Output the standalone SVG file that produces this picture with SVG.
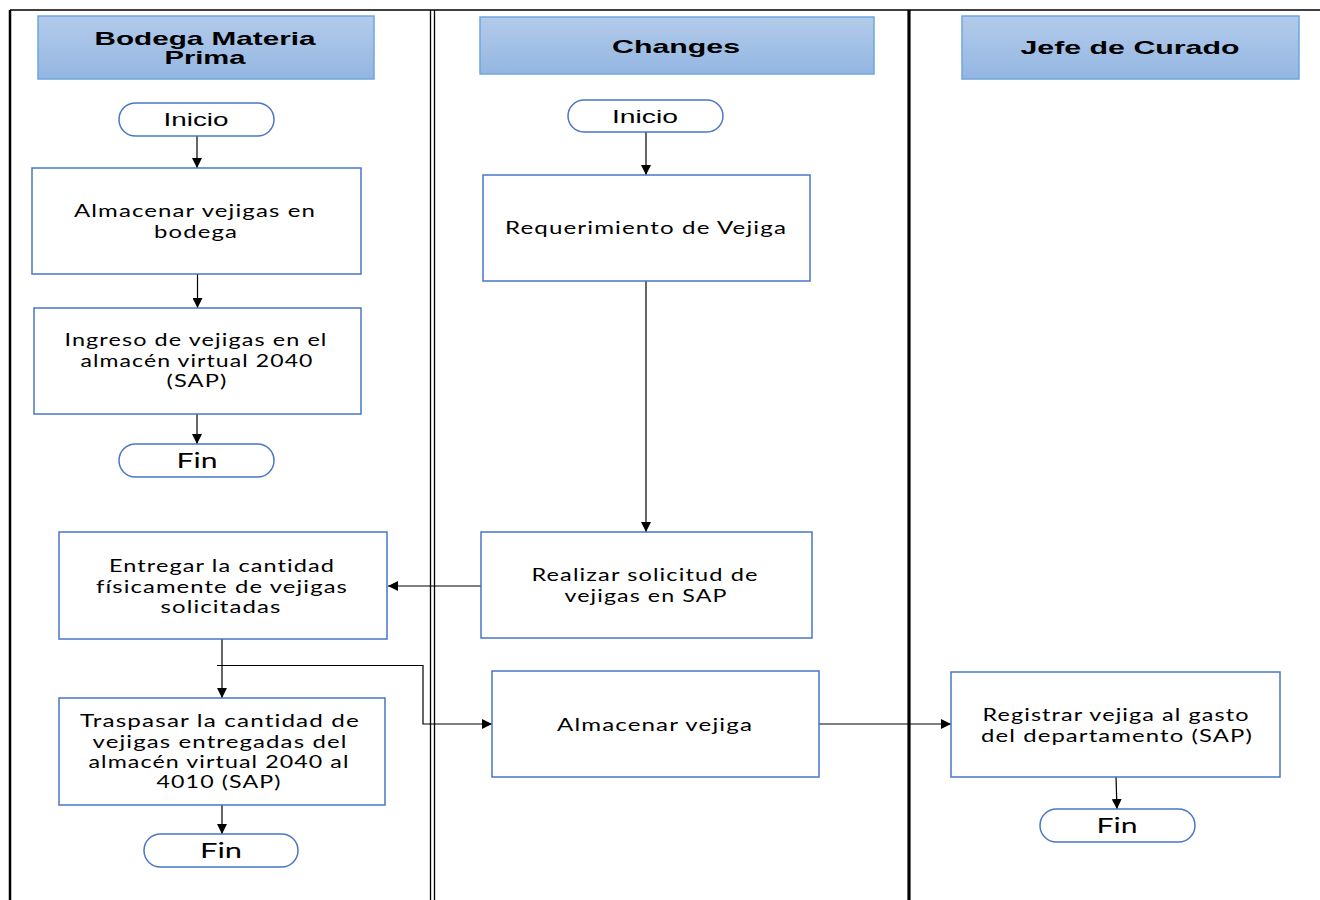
<svg xmlns="http://www.w3.org/2000/svg" width="1320" height="900" viewBox="0 0 1320 900">
  <defs>
    <linearGradient id="hdrFill" x1="0" y1="0" x2="0" y2="1">
      <stop offset="0" stop-color="#b3cbea"/>
      <stop offset="1" stop-color="#93b6e2"/>
    </linearGradient>
    <marker id="arrow" viewBox="0 0 10 10" refX="10" refY="5" markerWidth="10" markerHeight="10" markerUnits="userSpaceOnUse" orient="auto">
      <path d="M0,0 L10,5 L0,10 z" fill="#000"/>
    </marker>
  </defs>
  <style>
    .hdr { fill: url(#hdrFill); stroke: #6fa6de; stroke-width: 1.5; }
    .hdrText { font-family: "Liberation Sans", Arial, sans-serif; font-weight: bold; font-size: 19px; fill: #000; text-anchor: middle; }
    .box { fill: #fff; stroke: #4a76c8; stroke-width: 1.5; }
    .term { fill: #fff; stroke: #4a76c8; stroke-width: 1.5; }
    .txt { font-family: Lato, "Open Sans", sans-serif; font-size: 17px; fill: #000; text-anchor: middle; letter-spacing: 0.8px; }
    .ttxt { font-family: "Liberation Sans", Arial, sans-serif; font-size: 19px; fill: #000; text-anchor: middle; }
    .ftxt { font-family: Lato, "Open Sans", sans-serif; font-size: 22px; fill: #000; text-anchor: middle; }
    .conn { fill: none; stroke: #000; stroke-width: 1.2; }
    .lane { stroke: #000; fill: none; }
  </style>

  <rect width="1320" height="900" fill="#fff"/>

  <!-- swimlane frame -->
  <g id="lanes">
    <line class="lane" x1="10" y1="10" x2="1320" y2="10" stroke-width="1.5"/>
    <line class="lane" x1="10" y1="10" x2="10" y2="900" stroke-width="2.5"/>
    <line class="lane" x1="430.5" y1="10" x2="430.5" y2="900" stroke-width="1.3"/>
    <line class="lane" x1="434.5" y1="10" x2="434.5" y2="900" stroke-width="1.3"/>
    <line class="lane" x1="909" y1="10" x2="909" y2="900" stroke-width="3.2"/>
  </g>

  <!-- lane headers -->
  <g id="header-bodega">
    <rect class="hdr" x="38" y="16" width="336" height="63"/>
    <text class="hdrText" x="205" y="45" textLength="221" lengthAdjust="spacingAndGlyphs">Bodega Materia</text>
    <text class="hdrText" x="205" y="64" textLength="81" lengthAdjust="spacingAndGlyphs">Prima</text>
  </g>
  <g id="header-changes">
    <rect class="hdr" x="480" y="17" width="394" height="57"/>
    <text class="hdrText" x="676" y="53" textLength="128" lengthAdjust="spacingAndGlyphs">Changes</text>
  </g>
  <g id="header-jefe">
    <rect class="hdr" x="962" y="16" width="337" height="63"/>
    <text class="hdrText" x="1130" y="54" textLength="219" lengthAdjust="spacingAndGlyphs">Jefe de Curado</text>
  </g>

  <!-- connectors -->
  <g id="connectors">
    <line class="conn" x1="197" y1="136" x2="197" y2="168" marker-end="url(#arrow)"/>
    <line class="conn" x1="197.5" y1="274" x2="197.5" y2="308" marker-end="url(#arrow)"/>
    <line class="conn" x1="197" y1="414" x2="197" y2="444" marker-end="url(#arrow)"/>
    <line class="conn" x1="646" y1="132" x2="646" y2="175" marker-end="url(#arrow)"/>
    <line class="conn" x1="646" y1="281" x2="646" y2="532" marker-end="url(#arrow)"/>
    <line class="conn" x1="481" y1="586" x2="388" y2="586" marker-end="url(#arrow)"/>
    <line class="conn" x1="222" y1="639" x2="222" y2="698" marker-end="url(#arrow)"/>
    <polyline class="conn" points="217,665.5 423,665.5 423,724 492,724" marker-end="url(#arrow)"/>
    <line class="conn" x1="819" y1="724" x2="951" y2="724" marker-end="url(#arrow)"/>
    <line class="conn" x1="1116" y1="777" x2="1117" y2="809" marker-end="url(#arrow)"/>
    <line class="conn" x1="222" y1="805" x2="222" y2="834" marker-end="url(#arrow)"/>
  </g>

  <!-- Bodega Materia Prima lane -->
  <g id="inicio-bodega">
    <rect class="term" x="119" y="103" width="155" height="33" rx="16.5"/>
    <text class="ttxt" x="196" y="126" textLength="65" lengthAdjust="spacingAndGlyphs">Inicio</text>
  </g>
  <g id="almacenar-bodega">
    <rect class="box" x="32" y="168" width="329" height="106"/>
    <text class="txt" x="195" y="217" textLength="242" lengthAdjust="spacingAndGlyphs">Almacenar vejigas en</text>
    <text class="txt" x="196" y="238" textLength="84" lengthAdjust="spacingAndGlyphs">bodega</text>
  </g>
  <g id="ingreso-2040">
    <rect class="box" x="34" y="308" width="327" height="106"/>
    <text class="txt" x="196" y="346" textLength="263" lengthAdjust="spacingAndGlyphs">Ingreso de vejigas en el</text>
    <text class="txt" x="197" y="367" textLength="233" lengthAdjust="spacingAndGlyphs">almacén virtual 2040</text>
    <text class="txt" x="197" y="387" textLength="61" lengthAdjust="spacingAndGlyphs">(SAP)</text>
  </g>
  <g id="fin-bodega-1">
    <rect class="term" x="119" y="444" width="155" height="33" rx="16.5"/>
    <text class="ftxt" x="197" y="468" textLength="41" lengthAdjust="spacingAndGlyphs">Fin</text>
  </g>
  <g id="entregar">
    <rect class="box" x="59" y="532" width="328" height="107"/>
    <text class="txt" x="222" y="572" textLength="226" lengthAdjust="spacingAndGlyphs">Entregar la cantidad</text>
    <text class="txt" x="222" y="593" textLength="252" lengthAdjust="spacingAndGlyphs">físicamente de vejigas</text>
    <text class="txt" x="221" y="613" textLength="121" lengthAdjust="spacingAndGlyphs">solicitadas</text>
  </g>
  <g id="traspasar">
    <rect class="box" x="59" y="698" width="326" height="107"/>
    <text class="txt" x="220" y="727" textLength="280" lengthAdjust="spacingAndGlyphs">Traspasar la  cantidad de</text>
    <text class="txt" x="220" y="748" textLength="255" lengthAdjust="spacingAndGlyphs">vejigas entregadas del</text>
    <text class="txt" x="219" y="768" textLength="261" lengthAdjust="spacingAndGlyphs">almacén virtual 2040 al</text>
    <text class="txt" x="219" y="788" textLength="125" lengthAdjust="spacingAndGlyphs">4010 (SAP)</text>
  </g>
  <g id="fin-bodega-2">
    <rect class="term" x="144" y="834" width="154" height="33" rx="16.5"/>
    <text class="ftxt" x="221" y="858" textLength="42" lengthAdjust="spacingAndGlyphs">Fin</text>
  </g>

  <!-- Changes lane -->
  <g id="inicio-changes">
    <rect class="term" x="568" y="100" width="155" height="32" rx="16"/>
    <text class="ttxt" x="645" y="123" textLength="66" lengthAdjust="spacingAndGlyphs">Inicio</text>
  </g>
  <g id="requerimiento">
    <rect class="box" x="483" y="175" width="327" height="106"/>
    <text class="txt" x="646" y="234" textLength="282" lengthAdjust="spacingAndGlyphs">Requerimiento de Vejiga</text>
  </g>
  <g id="realizar-solicitud">
    <rect class="box" x="481" y="532" width="331" height="106"/>
    <text class="txt" x="645" y="581" textLength="227" lengthAdjust="spacingAndGlyphs">Realizar solicitud de</text>
    <text class="txt" x="646" y="602" textLength="163" lengthAdjust="spacingAndGlyphs">vejigas en SAP</text>
  </g>
  <g id="almacenar-vejiga">
    <rect class="box" x="492" y="671" width="327" height="106"/>
    <text class="txt" x="655" y="731" textLength="196" lengthAdjust="spacingAndGlyphs">Almacenar vejiga</text>
  </g>

  <!-- Jefe de Curado lane -->
  <g id="registrar-gasto">
    <rect class="box" x="951" y="672" width="329" height="105"/>
    <text class="txt" x="1116" y="721" textLength="267" lengthAdjust="spacingAndGlyphs">Registrar vejiga al gasto</text>
    <text class="txt" x="1117" y="742" textLength="272" lengthAdjust="spacingAndGlyphs">del departamento (SAP)</text>
  </g>
  <g id="fin-jefe">
    <rect class="term" x="1040" y="809" width="155" height="33" rx="16.5"/>
    <text class="ftxt" x="1117" y="833" textLength="41" lengthAdjust="spacingAndGlyphs">Fin</text>
  </g>
</svg>
